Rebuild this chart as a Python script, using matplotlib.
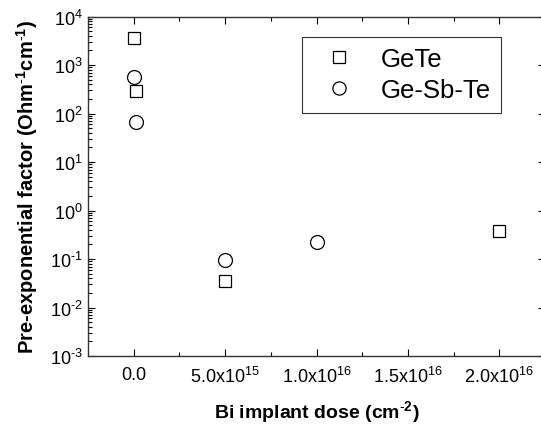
import matplotlib
matplotlib.use("Agg")
import matplotlib.pyplot as plt
from matplotlib.ticker import FixedLocator, LogLocator, NullFormatter

plt.rcParams['font.family'] = ['Liberation Sans', 'DejaVu Sans']
plt.rcParams['mathtext.fontset'] = 'custom'
plt.rcParams['mathtext.rm'] = 'Liberation Sans'
plt.rcParams['mathtext.it'] = 'Liberation Sans:italic'
plt.rcParams['mathtext.bf'] = 'Liberation Sans:bold'

gete_dose = [0.0, 1.5e14, 5e15, 2e16]
gete_vals = [3600, 286, 0.035, 0.37]
gst_dose = [0.0, 1.5e14, 5e15, 1e16]
gst_vals = [556, 68, 0.094, 0.22]

xticks = [0.0, 5e15, 1e16, 1.5e16, 2e16]
xticklabels = ['0.0', r'$5.0\mathrm{x}10^{15}$', r'$1.0\mathrm{x}10^{16}$',
               r'$1.5\mathrm{x}10^{16}$', r'$2.0\mathrm{x}10^{16}$']
yticks = [1e-3, 1e-2, 1e-1, 1e0, 1e1, 1e2, 1e3, 1e4]
yticklabels = [r'$10^{\text{-}%d}$' % (-e) if e < 0 else r'$10^{%d}$' % e
               for e in range(-3, 5)]

W, H = 541, 427
fig = plt.figure(figsize=(W / 100, H / 100), dpi=100)
ax = fig.add_axes([88 / W, (H - 357) / H, (545 - 88) / W, (357 - 17.5) / H])

ax.plot(gete_dose, gete_vals, linestyle='none', marker='s', markersize=8.5,
        markerfacecolor='white', markeredgecolor='black', markeredgewidth=0.9,
        label='GeTe')
ax.plot(gst_dose, gst_vals, linestyle='none', marker='o', markersize=10,
        markerfacecolor='white', markeredgecolor='black', markeredgewidth=0.9,
        label='Ge-Sb-Te')

ax.set_yscale('log')
ax.set_ylim(1e-3, 1e4)
ax.set_xlim(-2.5e15, 2.25e16)

ax.xaxis.set_major_locator(FixedLocator(xticks))
ax.set_xticklabels(xticklabels)
ax.xaxis.set_minor_locator(FixedLocator([2.5e15, 7.5e15, 1.25e16, 1.75e16]))
ax.yaxis.set_major_locator(FixedLocator(yticks))
ax.set_yticklabels(yticklabels)
ax.yaxis.set_minor_locator(LogLocator(base=10, subs=range(2, 10), numticks=20))
ax.yaxis.set_minor_formatter(NullFormatter())

ax.tick_params(which='both', direction='in', top=True, right=True,
               labelsize=13, width=0.8, colors='black')
ax.tick_params(which='major', length=5)
ax.tick_params(which='minor', length=3)
ax.tick_params(axis='x', pad=7)
ax.tick_params(axis='y', pad=4)
for s in ax.spines.values():
    s.set_linewidth(1.0)
    s.set_color('#333333')

ax.set_xlabel(r'Bi implant dose (cm$^{\mathbf{\text{-}2}}$)', fontsize=14,
              fontweight='bold', labelpad=9)
ax.set_ylabel(r'Pre-exponential factor (Ohm$^{\mathbf{\text{-}1}}$cm$^{\mathbf{\text{-}1}}$)',
              fontsize=14.5, fontweight='bold', labelpad=7)

leg = ax.legend(loc='upper left', bbox_to_anchor=((302 - 88) / 457, 1 - (38 - 17.5) / 339.5),
                fontsize=18.5, frameon=True, fancybox=False, edgecolor='black',
                markerscale=0.95, handlelength=2.1, handletextpad=0.55,
                borderpad=0.4, labelspacing=0.28, borderaxespad=0)
leg.get_frame().set_linewidth(0.8)

fig.savefig('out.png', dpi=100)
